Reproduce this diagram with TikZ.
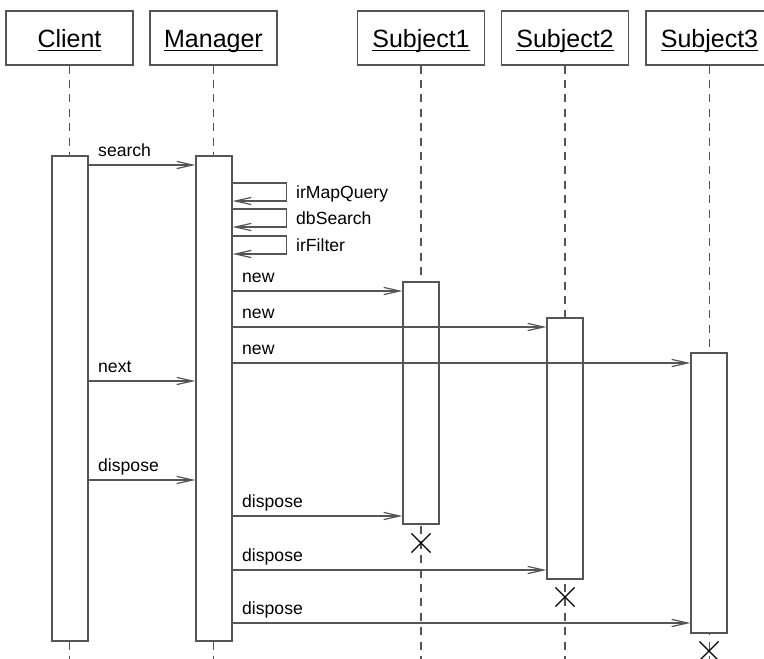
\documentclass[tikz,border=0pt]{standalone}
\usepackage{fontspec}
\setmainfont{Liberation Sans}
\definecolor{linegray}{RGB}{85,85,85}
\usetikzlibrary{arrows.meta, positioning, fit, shapes.misc}

% object name with its underline just below the baseline
\newcommand{\objname}[1]{\setbox0\hbox{#1}\rlap{\rule[-1.6pt]{\wd0}{0.6pt}}\box0}

\begin{document}
\begin{tikzpicture}[x=0.5pt, y=-0.5pt,
    obj/.style={draw=linegray, line width=0.6pt, minimum width=63.5pt, minimum height=27pt,
      inner sep=0pt, text height=10pt, text depth=0pt, font=\fontsize{12.5}{14}\selectfont},
    act/.style={draw=linegray, fill=white, line width=0.6pt, inner sep=0pt},
    life/.style={draw=linegray, line width=0.6pt, dash pattern=on 4pt off 3.2pt},
    msg/.style={draw=linegray, line width=0.6pt, -{Straight Barb[length=8pt, width=3.6pt]}},
    lbl/.style={anchor=base west, inner sep=0pt, font=\fontsize{8.8}{10}\selectfont},
    kill/.style={cross out, draw=black, line width=0.6pt, minimum size=9pt, inner sep=0pt}]
  \clip (0,0) rectangle (764,658);
  \coordinate (bottom) at (0,660);

  % Objects
  \node[obj] (client) at (69.5,38) {\objname{Client}};
  \node[obj] (manager) at (213.5,38) {\objname{Manager}};
  \node[obj] (subj1) at (421,38) {\objname{Subject1}};
  \node[obj] (subj2) at (565,38) {\objname{Subject2}};
  \node[obj] (subj3) at (709.5,38) {\objname{Subject3}};

  % Lifelines
  \foreach \o in {client, manager, subj1, subj2, subj3}
    \draw[life] (\o.south) -- (\o.south |- bottom);

  % Activation bars
  \node[act, fit={(52,156) (88,641)}] (clientact) {};
  \node[act, fit={(196,156) (232,641)}] (manact) {};
  \node[act, fit={(403,282) (439,524)}] (s1act) {};
  \node[act, fit={(547,318) (583,579)}] (s2act) {};
  \node[act, fit={(691,353) (727,633)}] (s3act) {};

  % Destruction marks
  \node[kill] (s1end) at (421,543) {};
  \node[kill] (s2end) at (565,597) {};
  \node[kill] (s3end) at (709,651) {};

  % Message rows
  \coordinate (m1) at (0,165);
  \coordinate (q1) at (0,183);
  \coordinate (q2) at (0,209);
  \coordinate (q3) at (0,236);
  \coordinate (m2) at (0,291);
  \coordinate (m3) at (0,327);
  \coordinate (m4) at (0,363);
  \coordinate (m5) at (0,381);
  \coordinate (m6) at (0,480);
  \coordinate (m7) at (0,516);
  \coordinate (m8) at (0,570);
  \coordinate (m9) at (0,623);

  % Client -> Manager
  \draw[msg] (clientact.east |- m1) node[lbl, xshift=4.5pt, yshift=4.3pt] {search} -- (manact.west |- m1);
  \draw[msg] (clientact.east |- m5) node[lbl, xshift=4.5pt, yshift=4.3pt] {next} -- (manact.west |- m5);
  \draw[msg] (clientact.east |- m6) node[lbl, xshift=4.5pt, yshift=4.3pt] {dispose} -- (manact.west |- m6);

  % Manager self calls
  \draw[msg] (manact.east |- q1) -- ++(54,0) node[lbl, xshift=4.5pt, yshift=-7.5pt] {irMapQuery}
    -- ++(0,18) -- ++(-54,0);
  \draw[msg] (manact.east |- q2) -- ++(54,0) node[lbl, xshift=4.5pt, yshift=-7.5pt] {dbSearch}
    -- ++(0,18) -- ++(-54,0);
  \draw[msg] (manact.east |- q3) -- ++(54,0) node[lbl, xshift=4.5pt, yshift=-7.5pt] {irFilter}
    -- ++(0,18) -- ++(-54,0);

  % Manager -> Subjects
  \draw[msg] (manact.east |- m2) node[lbl, xshift=4.5pt, yshift=4.3pt] {new} -- (s1act.west |- m2);
  \draw[msg] (manact.east |- m3) node[lbl, xshift=4.5pt, yshift=4.3pt] {new} -- (s2act.west |- m3);
  \draw[msg] (manact.east |- m4) node[lbl, xshift=4.5pt, yshift=4.3pt] {new} -- (s3act.west |- m4);
  \draw[msg] (manact.east |- m7) node[lbl, xshift=4.5pt, yshift=4.3pt] {dispose} -- (s1act.west |- m7);
  \draw[msg] (manact.east |- m8) node[lbl, xshift=4.5pt, yshift=4.3pt] {dispose} -- (s2act.west |- m8);
  \draw[msg] (manact.east |- m9) node[lbl, xshift=4.5pt, yshift=4.3pt] {dispose} -- (s3act.west |- m9);
\end{tikzpicture}
\end{document}
